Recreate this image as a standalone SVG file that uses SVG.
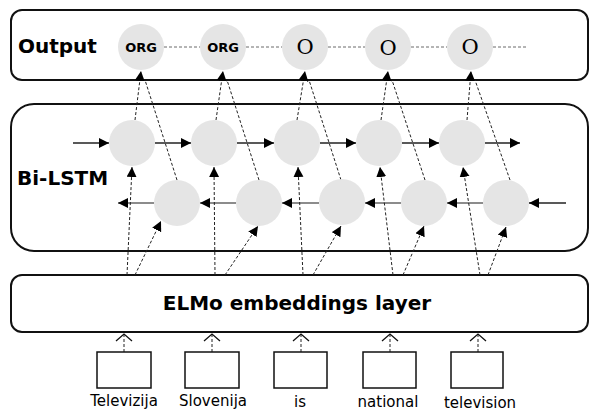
<svg xmlns="http://www.w3.org/2000/svg" width="589" height="412" viewBox="0 0 589 412">
<style>
.frame{fill:#fff;stroke:#111;stroke-width:2}
.cell{fill:#e5e5e5}
.lbl{font-family:"DejaVu Sans",sans-serif;font-weight:bold;font-size:20px;fill:#000}
.org{font-family:"DejaVu Sans",sans-serif;font-weight:bold;font-size:13px;fill:#000;text-anchor:middle}
.o{font-family:"DejaVu Serif","Liberation Serif",serif;font-size:21px;fill:#000;text-anchor:middle}
.word{font-family:"DejaVu Sans",sans-serif;font-size:15px;fill:#000;text-anchor:middle}
.dash{fill:none;stroke:#222;stroke-width:1;stroke-dasharray:3,2}
.odash{fill:none;stroke:#444;stroke-width:0.8;stroke-dasharray:3,2}
.arr{fill:none;stroke:#222;stroke-width:1.5}
.barr{fill:none;stroke:#666;stroke-width:1.5}
.wbox{fill:#fff;stroke:#111;stroke-width:1.5}
.chev{fill:none;stroke:#111;stroke-width:1.3}
</style>
<defs>
<marker id="ah" markerUnits="userSpaceOnUse" markerWidth="12" markerHeight="12" refX="10" refY="5" orient="auto">
<path d="M0,0 L10,5 L0,10 Z" fill="#000"/>
</marker>
</defs>

<g id="output-layer">
<rect class="frame" x="11" y="10" width="577" height="70" rx="11"/>
<text class="lbl" x="18" y="53">Output</text>
</g>
<g id="bilstm-layer">
<rect class="frame" x="11" y="104" width="577" height="147" rx="23"/>
<text class="lbl" x="17" y="185">Bi-LSTM</text>
</g>
<g id="elmo-layer">
<rect class="frame" x="11" y="275" width="577" height="57" rx="11"/>
<text class="lbl" x="297" y="310" text-anchor="middle">ELMo embeddings layer</text>
</g>

<g id="connectors">
<path class="odash" d="M164,47H200 M246,47H282 M328,47H365 M411,47H447 M493,47H528"/>
<path class="arr" marker-end="url(#ah)" d="M73,143H109"/>
<path class="arr" marker-end="url(#ah)" d="M155,143H191"/>
<path class="arr" marker-end="url(#ah)" d="M237,143H274"/>
<path class="arr" marker-end="url(#ah)" d="M320,143H356"/>
<path class="arr" marker-end="url(#ah)" d="M402,143H439"/>
<path class="arr" marker-end="url(#ah)" d="M485,143H520"/>
<path class="arr" marker-end="url(#ah)" d="M566,203H529"/>
<path class="barr" marker-end="url(#ah)" d="M483,203H447"/>
<path class="barr" marker-end="url(#ah)" d="M401,203H365"/>
<path class="barr" marker-end="url(#ah)" d="M319,203H282"/>
<path class="barr" marker-end="url(#ah)" d="M236,203H200"/>
<path class="barr" marker-end="url(#ah)" d="M154,203H118"/>
<path class="dash" marker-end="url(#ah)" d="M127,275L132,167"/>
<path class="dash" marker-end="url(#ah)" d="M215,275L214,167"/>
<path class="dash" marker-end="url(#ah)" d="M303,275L298,167"/>
<path class="dash" marker-end="url(#ah)" d="M393,275L380,167"/>
<path class="dash" marker-end="url(#ah)" d="M480,275L463,167"/>
<path class="dash" marker-end="url(#ah)" d="M135,275L161,221"/>
<path class="dash" marker-end="url(#ah)" d="M225,275L258,226"/>
<path class="dash" marker-end="url(#ah)" d="M313,275L341,226"/>
<path class="dash" marker-end="url(#ah)" d="M403,275L424,226"/>
<path class="dash" marker-end="url(#ah)" d="M488,275L506,227"/>
<path class="dash" marker-end="url(#ah)" d="M135,120L141,71"/>
<path class="dash" marker-end="url(#ah)" d="M216,120L223,71"/>
<path class="dash" marker-end="url(#ah)" d="M297,120L305,71"/>
<path class="dash" marker-end="url(#ah)" d="M381,120L388,71"/>
<path class="dash" marker-end="url(#ah)" d="M467,120L471,71"/>
<path class="dash" d="M177,180L145,80"/>
<path class="dash" d="M259,180L227,80"/>
<path class="dash" d="M341,180L309,80"/>
<path class="dash" d="M425,180L392,80"/>
<path class="dash" d="M510,180L475,80"/>
<path class="dash" d="M124,352V334 M212,352V334 M301,352V334 M390,352V334 M478,352V334"/>
<path class="chev" d="M116,341L124,334L132,341 M204,341L212,334L220,341 M293,341L301,334L309,341 M382,341L390,334L398,341 M470,341L478,334L486,341"/>
</g>

<g id="out1"><circle class="cell" cx="141" cy="47" r="23"/><text class="org" x="141" y="52">ORG</text></g>
<g id="out2"><circle class="cell" cx="223" cy="47" r="23"/><text class="org" x="223" y="52">ORG</text></g>
<g id="out3"><circle class="cell" cx="305" cy="47" r="23"/><text class="o" x="305" y="54">O</text></g>
<g id="out4"><circle class="cell" cx="388" cy="47" r="23"/><text class="o" x="388" y="55">O</text></g>
<g id="out5"><circle class="cell" cx="470" cy="47" r="23"/><text class="o" x="470" y="54">O</text></g>

<g id="fwd1"><circle class="cell" cx="132" cy="143" r="23"/></g>
<g id="fwd2"><circle class="cell" cx="214" cy="143" r="23"/></g>
<g id="fwd3"><circle class="cell" cx="297" cy="143" r="23"/></g>
<g id="fwd4"><circle class="cell" cx="379" cy="143" r="23"/></g>
<g id="fwd5"><circle class="cell" cx="462" cy="143" r="23"/></g>

<g id="bwd1"><circle class="cell" cx="177" cy="203" r="23"/></g>
<g id="bwd2"><circle class="cell" cx="259" cy="203" r="23"/></g>
<g id="bwd3"><circle class="cell" cx="342" cy="202" r="23"/></g>
<g id="bwd4"><circle class="cell" cx="424" cy="203" r="23"/></g>
<g id="bwd5"><circle class="cell" cx="506" cy="203" r="23"/></g>

<g id="w1"><rect class="wbox" x="97" y="352" width="54" height="36"/><text class="word" x="124" y="406">Televizija</text></g>
<g id="w2"><rect class="wbox" x="185" y="352" width="54" height="36"/><text class="word" x="213" y="406">Slovenija</text></g>
<g id="w3"><rect class="wbox" x="274" y="352" width="53" height="36"/><text class="word" x="300" y="407">is</text></g>
<g id="w4"><rect class="wbox" x="363" y="352" width="53" height="36"/><text class="word" x="388" y="407">national</text></g>
<g id="w5"><rect class="wbox" x="451" y="352" width="52" height="36"/><text class="word" x="480" y="408">television</text></g>
</svg>
